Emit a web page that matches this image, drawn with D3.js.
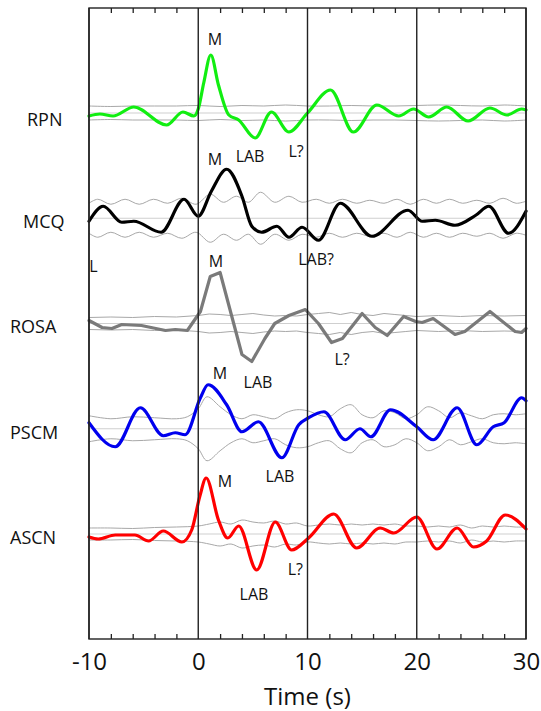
<!DOCTYPE html>
<html>
<head>
<meta charset="utf-8">
<script src="https://cdn.jsdelivr.net/npm/d3@7/dist/d3.min.js"></script>
<style>
  body { margin: 0; background: #fff; }
  text { font-family: "Open Sans", sans-serif; fill: #111; }
</style>
</head>
<body>
<svg id="chart" width="541" height="711"></svg>
<script>
// stations, top to bottom
var stations = ["RPN", "MCQ", "ROSA", "PSCM", "ASCN"];
var colors = ["#11ee11", "#000000", "#7a7a7a", "#0000ee", "#ff0000"];

// receiver function traces: time (s) and amplitude
var rpnT = [-10, -9, -7.8, -5.9, -2.9, -1.4, -0.4, 0, 0.5, 1.15, 1.85, 2.8, 3.7, 5.2, 6.7, 8.3, 10, 12.1, 14.2, 16.35, 18.35, 19.7, 21.1, 22.75, 24.7, 26.7, 28.25, 29.6, 30];
var rpnA = [-0.03, -0.01, -0.03, 0.06, -0.12, 0.01, -0.03, 0.04, 0.3, 0.58, 0.28, -0.02, -0.07, -0.25, 0.01, -0.19, 0, 0.23, -0.19, 0.08, -0.03, 0.04, -0.04, 0.06, -0.08, 0.05, -0.02, 0.04, 0.03];

var mcqT = [-10, -8.7, -7.0, -5.9, -3.4, -1.3, 0, 1.2, 2.6, 4.0, 4.9, 5.8, 7.2, 8.3, 9.5, 11.0, 13.0, 15.9, 19.2, 20.5, 21.7, 23.5, 25.4, 26.6, 28.4, 30];
var mcqA = [-0.03, 0.12, -0.04, -0.03, -0.14, 0.19, 0.02, 0.27, 0.49, 0.22, -0.08, -0.14, -0.08, -0.19, -0.09, -0.22, 0.15, -0.18, 0.08, -0.03, -0.02, -0.07, 0.03, 0.12, -0.15, 0.07];

var rosaT = [-10, -8.8, -7.9, -7.0, -5.2, -3.0, -2.1, -1.0, 0.2, 1.1, 2.0, 4.0, 4.9, 6.1, 7.0, 8.3, 9.8, 11.0, 12.2, 13.2, 15.0, 16.2, 17.3, 18.8, 19.9, 20.5, 21.5, 23.5, 24.4, 26.7, 29.0, 29.6, 30];
var rosaA = [0.03, -0.04, -0.05, -0.01, -0.02, -0.07, -0.06, -0.07, 0.12, 0.47, 0.51, -0.31, -0.38, -0.15, 0, 0.08, 0.14, 0, -0.19, -0.15, 0.1, -0.04, -0.12, 0.07, 0.02, 0.01, 0.05, -0.11, -0.08, 0.12, -0.08, -0.09, -0.05];

var pscmT = [-10, -7.6, -5.3, -3.2, -2.1, -1.2, 0.2, 0.9, 2.6, 4.0, 5.5, 7.65, 9.2, 10.1, 11.5, 13.45, 14.8, 15.8, 17.6, 20.0, 21.5, 23.7, 25.5, 27.0, 28.0, 29.6, 30];
var pscmA = [0.06, -0.18, 0.21, -0.07, -0.04, -0.06, 0.31, 0.44, 0.24, -0.03, 0.07, -0.29, 0.04, 0.11, 0.17, -0.11, 0, -0.08, 0.19, 0.02, -0.11, 0.21, -0.16, 0.02, 0.06, 0.31, 0.28];

var ascnT = [-10, -9.15, -7.6, -5.8, -4.55, -3.2, -1.5, -0.6, 0.15, 0.72, 1.85, 2.7, 3.7, 5.35, 7.05, 8.55, 10.1, 12.4, 14.5, 16.65, 17.9, 20.0, 21.85, 23.7, 25.2, 26.4, 28.1, 30];
var ascnA = [-0.03, -0.05, -0.01, -0.01, -0.07, 0.03, -0.08, 0.04, 0.38, 0.56, 0.14, -0.04, 0.08, -0.36, 0.12, -0.16, -0.04, 0.2, -0.14, 0.06, 0.01, 0.17, -0.15, 0.06, -0.13, -0.07, 0.19, 0.05];

// error envelopes (plotted as +/- around zero)
var rpnSigT = [-10, -8, -6, -4, -2, 0, 2, 4, 6, 8, 10, 12, 14, 16, 18, 20, 22, 24, 26, 28, 30];
var rpnSig = [0.07, 0.065, 0.07, 0.07, 0.07, 0.075, 0.065, 0.075, 0.07, 0.08, 0.07, 0.07, 0.075, 0.07, 0.07, 0.075, 0.08, 0.075, 0.07, 0.08, 0.07];

var mcqSigT = [-10, -9.2, -8, -6.7, -5.4, -4.1, -2.8, -1.5, -0.2, 1.1, 2.3, 3.5, 4.6, 5.7, 7.0, 8.3, 9.5, 10.8, 12, 13.2, 14.5, 15.7, 17, 18.2, 19.4, 20.6, 21.8, 23, 24.2, 25.5, 26.7, 27.9, 29.1, 30];
var mcqSig = [0.15, 0.19, 0.14, 0.19, 0.14, 0.19, 0.15, 0.2, 0.14, 0.24, 0.16, 0.22, 0.16, 0.26, 0.16, 0.22, 0.16, 0.19, 0.15, 0.19, 0.15, 0.18, 0.15, 0.19, 0.14, 0.19, 0.15, 0.19, 0.15, 0.18, 0.15, 0.2, 0.15, 0.17];

var rosaSigT = [-10, -8, -6, -4, -2, 0, 1, 2, 3, 4, 5, 6, 7, 8, 9, 10, 11, 12, 13, 14, 15, 16, 17, 18, 19, 20, 22, 24, 26, 28, 30];
var rosaSig = [0.06, 0.065, 0.06, 0.07, 0.065, 0.08, 0.095, 0.09, 0.08, 0.09, 0.1, 0.085, 0.075, 0.08, 0.075, 0.09, 0.1, 0.11, 0.09, 0.11, 0.09, 0.08, 0.1, 0.09, 0.08, 0.07, 0.08, 0.07, 0.08, 0.075, 0.08];

var pscmSigT = [-10, -8, -6, -4, -2, -1, 0, 0.8, 2, 3, 4, 5, 6, 7, 8, 9, 10, 11, 12, 13, 14, 15, 16, 17, 18, 19, 20, 21, 22, 23, 24, 25, 26, 27, 28, 29, 30];
var pscmSig = [0.13, 0.1, 0.12, 0.11, 0.1, 0.12, 0.2, 0.32, 0.22, 0.14, 0.1, 0.14, 0.12, 0.1, 0.16, 0.19, 0.18, 0.14, 0.12, 0.2, 0.24, 0.14, 0.11, 0.18, 0.16, 0.1, 0.14, 0.22, 0.18, 0.11, 0.16, 0.13, 0.1, 0.14, 0.15, 0.14, 0.15];

var ascnSigT = [-10, -8, -6, -4, -2, 0, 1, 2, 3, 4, 5, 6, 7, 8, 9, 10, 11, 12, 13, 14, 15, 16, 17, 18, 19, 20, 21, 22, 23, 24, 25, 26, 27, 28, 29, 30];
var ascnSig = [0.06, 0.06, 0.055, 0.065, 0.07, 0.08, 0.1, 0.12, 0.1, 0.14, 0.12, 0.11, 0.13, 0.1, 0.11, 0.08, 0.09, 0.1, 0.09, 0.1, 0.09, 0.1, 0.09, 0.1, 0.08, 0.08, 0.07, 0.08, 0.07, 0.09, 0.06, 0.08, 0.07, 0.08, 0.07, 0.07];

// phase annotations: station, label, time, amplitude
var annStation = ["RPN", "RPN", "RPN", "MCQ", "MCQ", "MCQ", "ROSA", "ROSA", "ROSA", "PSCM", "PSCM", "ASCN", "ASCN", "ASCN"];
var annText = ["M", "LAB", "L?", "M", "LAB?", "L", "M", "LAB", "L?", "M", "LAB", "M", "LAB", "L?"];
var annT = [1.53, 4.74, 8.95, 1.53, 10.78, -9.6, 1.62, 5.47, 13.16, 1.99, 7.48, 2.45, 5.1, 8.89];
var annA = [0.74, -0.43, -0.38, 0.59, -0.41, -0.48, 0.63, -0.58, -0.35, 0.56, -0.47, 0.53, -0.6, -0.35];

var majorTicks = [-10, 0, 10, 20, 30];
var minorTicks = [-8, -6, -4, -2, 2, 4, 6, 8, 12, 14, 16, 18, 22, 24, 26, 28];

// layout
var labelX = [27, 23, 10, 10, 10];
var labelDy = [13, 10, 9, 10, 10];

var traces = [
  {name: "RPN", t: rpnT, a: rpnA, st: rpnSigT, s: rpnSig},
  {name: "MCQ", t: mcqT, a: mcqA, st: mcqSigT, s: mcqSig},
  {name: "ROSA", t: rosaT, a: rosaA, st: rosaSigT, s: rosaSig},
  {name: "PSCM", t: pscmT, a: pscmA, st: pscmSigT, s: pscmSig},
  {name: "ASCN", t: ascnT, a: ascnA, st: ascnSigT, s: ascnSig}
];

var svg = d3.select("#chart");
var plotTop = 8, plotBottom = 639;

var x = d3.scaleLinear().domain([-10, 30]).range([89, 526]);
var row = d3.scalePoint().domain(stations).range([113, 534]);
var amp = d3.scaleLinear().domain([-1, 1]).range([100, -100]);

traces.forEach(function(tr, i) {
  var base = row(tr.name);
  var angular = tr.name === "ROSA";
  var g = svg.append("g");

  // zero line
  g.append("line")
    .attr("x1", x(-10)).attr("x2", x(30))
    .attr("y1", base).attr("y2", base)
    .attr("stroke", "#cfcfcf").attr("stroke-width", 1);

  // envelope
  var env = d3.line()
    .x(function(d) { return x(d[0]); })
    .y(function(d) { return base + amp(d[1]); })
    .curve(angular ? d3.curveLinear : d3.curveCatmullRom.alpha(0.5));
  var sig = d3.zip(tr.st, tr.s);
  g.append("path")
    .attr("d", env(sig))
    .attr("fill", "none").attr("stroke", "#a8a8a8").attr("stroke-width", 1);
  g.append("path")
    .attr("d", env(sig.map(function(d) { return [d[0], -d[1]]; })))
    .attr("fill", "none").attr("stroke", "#a8a8a8").attr("stroke-width", 1);

  // trace
  var line = d3.line()
    .x(function(d) { return x(d[0]); })
    .y(function(d) { return base + amp(d[1]); })
    .curve(angular ? d3.curveLinear : d3.curveMonotoneX);
  g.append("path")
    .attr("d", line(d3.zip(tr.t, tr.a)))
    .attr("fill", "none")
    .attr("stroke", colors[i])
    .attr("stroke-width", 3.2)
    .attr("stroke-linejoin", "round")
    .attr("stroke-linecap", "round");

  // station name
  svg.append("text")
    .attr("x", labelX[i])
    .attr("y", base + labelDy[i])
    .attr("font-size", 18)
    .text(tr.name);
});

// frame and time grid
svg.append("rect")
  .attr("x", x(-10)).attr("y", plotTop)
  .attr("width", x(30) - x(-10)).attr("height", plotBottom - plotTop)
  .attr("fill", "none").attr("stroke", "#222").attr("stroke-width", 1.4);

svg.selectAll(".grid")
  .data(majorTicks)
  .enter().append("line")
  .attr("class", "grid")
  .attr("x1", function(d) { return x(d); })
  .attr("x2", function(d) { return x(d); })
  .attr("y1", plotTop).attr("y2", plotBottom)
  .attr("stroke", "#222").attr("stroke-width", 1.4);

// minor ticks, pointing inward on both edges
var tb = svg.append("g").attr("transform", "translate(0," + plotBottom + ")")
  .call(d3.axisTop(x).tickValues(minorTicks).tickSize(5).tickFormat(""));
var tt = svg.append("g").attr("transform", "translate(0," + plotTop + ")")
  .call(d3.axisBottom(x).tickValues(minorTicks).tickSize(5).tickFormat(""));
[tb, tt].forEach(function(a) {
  a.select(".domain").remove();
  a.selectAll("line").attr("stroke", "#222").attr("stroke-width", 1.3);
});

// tick labels
var ax = svg.append("g").attr("transform", "translate(0," + plotBottom + ")")
  .call(d3.axisBottom(x).tickValues(majorTicks).tickSize(0).tickPadding(14)
    .tickFormat(function(d) { return String(d); }));
ax.select(".domain").remove();
ax.selectAll("text")
  .attr("font-family", "'Open Sans', sans-serif")
  .attr("font-size", 24)
  .attr("fill", "#111");

svg.append("text")
  .attr("x", x(10))
  .attr("y", 705)
  .attr("text-anchor", "middle")
  .attr("font-size", 24)
  .text("Time (s)");

// phase labels
svg.selectAll(".ann")
  .data(annText)
  .enter().append("text")
  .attr("class", "ann")
  .attr("x", function(d, i) { return x(annT[i]); })
  .attr("y", function(d, i) { return row(annStation[i]) + amp(annA[i]); })
  .attr("text-anchor", "middle")
  .attr("dominant-baseline", "central")
  .attr("font-size", 16)
  .text(function(d) { return d; });
</script>
</body>
</html>
